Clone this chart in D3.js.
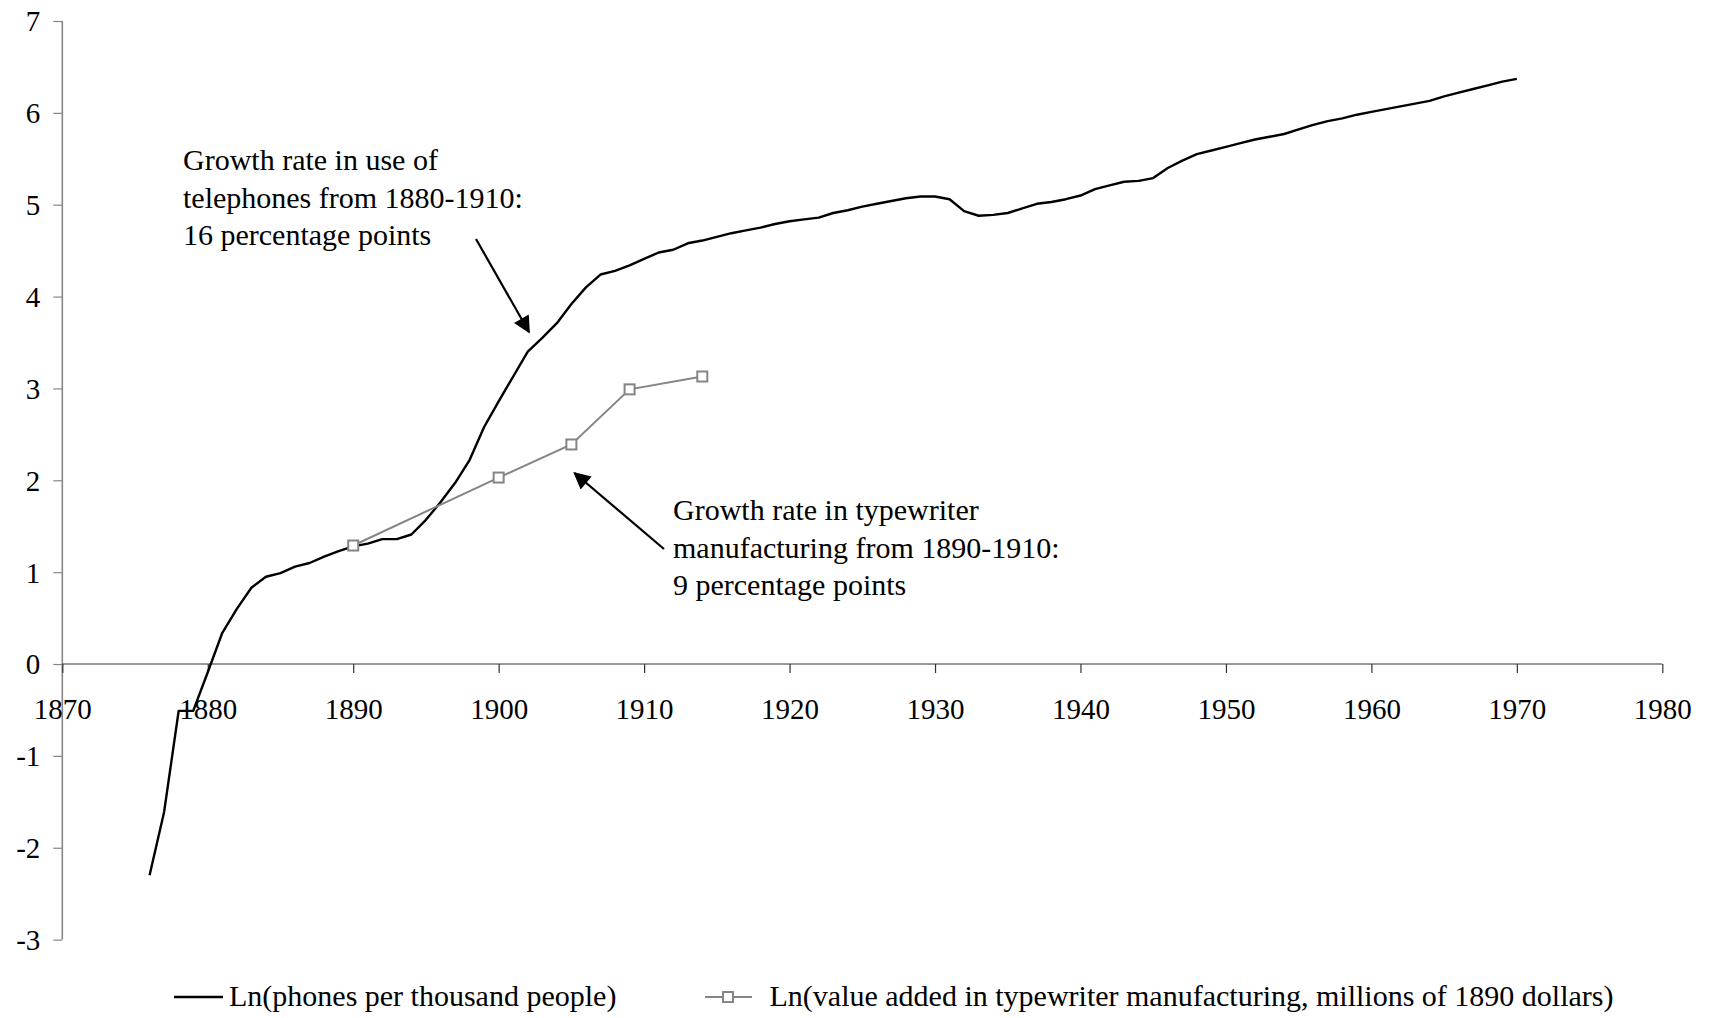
<!DOCTYPE html>
<html>
<head>
<meta charset="utf-8">
<script src="https://cdn.jsdelivr.net/npm/d3@7"></script>
<style>
  body { margin: 0; background: #fff; }
  text { font-family: "Liberation Serif", "Times New Roman", serif; }
</style>
</head>
<body>
<svg id="chart" width="1709" height="1018"></svg>
<script>
// phones per thousand people, natural log, yearly 1876-1970
var phoneYears = d3.range(1876, 1971);
var phoneValues = [
  -2.30, -1.61, -0.51, -0.51, -0.09, 0.34, 0.60, 0.83, 0.95, 0.99,
  1.06, 1.10, 1.17, 1.23, 1.28, 1.31, 1.36, 1.36, 1.41, 1.57,
  1.76, 1.97, 2.22, 2.58, 2.86, 3.13, 3.40, 3.55, 3.71, 3.92,
  4.10, 4.24, 4.28, 4.34, 4.41, 4.48, 4.51, 4.58, 4.61, 4.65,
  4.69, 4.72, 4.75, 4.79, 4.82, 4.84, 4.86, 4.91, 4.94, 4.98,
  5.01, 5.04, 5.07, 5.09, 5.09, 5.06, 4.93, 4.88, 4.89, 4.91,
  4.96, 5.01, 5.03, 5.06, 5.10, 5.17, 5.21, 5.25, 5.26, 5.29,
  5.40, 5.48, 5.55, 5.59, 5.63, 5.67, 5.71, 5.74, 5.77, 5.82,
  5.87, 5.91, 5.94, 5.98, 6.01, 6.04, 6.07, 6.10, 6.13, 6.18,
  6.22, 6.26, 6.30, 6.34, 6.37
];

// value added in typewriter manufacturing (census years)
var typeYears = [1890, 1900, 1905, 1909, 1914];
var typeValues = [1.29, 2.03, 2.39, 2.99, 3.13];

var xTicks = d3.range(1870, 1981, 10);
var yTicks = d3.range(-3, 8, 1);

var legendLabels = [
  "Ln(phones per thousand people)",
  "Ln(value added in typewriter manufacturing, millions of 1890 dollars)"
];
var note1 = ["Growth rate in use of", "telephones from 1880-1910:", "16 percentage points"];
var note2 = ["Growth rate in typewriter", "manufacturing from 1890-1910:", "9 percentage points"];

var svg = d3.select("#chart");

var x = d3.scaleLinear().domain([1870, 1980]).range([62.3, 1662.3]);
var y = d3.scaleLinear().domain([-3, 7]).range([939.6, 21]);

// y axis (gray), plain hyphen for negatives
var yAxis = svg.append("g")
    .attr("transform", "translate(" + x(1870) + ",0)")
    .call(d3.axisLeft(y).tickValues(yTicks).tickSize(9).tickFormat(function(d){ return String(d); }));
yAxis.select(".domain").attr("stroke", "#868686").attr("stroke-width", 1.6).attr("d", "M0," + y(7) + "V" + y(-3));
yAxis.selectAll(".tick line").attr("stroke", "#868686").attr("stroke-width", 1.2);
yAxis.selectAll(".tick text")
    .attr("x", -22).attr("dy", "0.34em")
    .style("font-family", "'Liberation Serif', serif").style("font-size", "29px").attr("fill", "#000");

// x axis along zero
var xAxis = svg.append("g")
    .attr("transform", "translate(0," + y(0) + ")")
    .call(d3.axisBottom(x).tickValues(xTicks).tickSize(9).tickFormat(function(d){ return String(d); }));
xAxis.select(".domain").attr("stroke", "#333").attr("stroke-width", 1.2).attr("d", "M" + x(1870) + ",0H" + x(1980));
xAxis.selectAll(".tick line").attr("stroke", "#333").attr("stroke-width", 1.2);
xAxis.selectAll(".tick text")
    .attr("y", 55).attr("dy", 0)
    .style("font-family", "'Liberation Serif', serif").style("font-size", "29px").attr("fill", "#000");

var line = d3.line()
    .x(function(d){ return x(d[0]); })
    .y(function(d){ return y(d[1]); });

// telephones
svg.append("path")
    .datum(d3.zip(phoneYears, phoneValues))
    .attr("fill", "none")
    .attr("stroke", "#000")
    .attr("stroke-width", 2.4)
    .attr("stroke-linejoin", "round")
    .attr("d", line);

// typewriters
var typeData = d3.zip(typeYears, typeValues);
svg.append("path")
    .datum(typeData)
    .attr("fill", "none")
    .attr("stroke", "#858585")
    .attr("stroke-width", 2)
    .attr("d", line);

var sq = 10;
svg.selectAll("rect.tw")
    .data(typeData)
    .enter()
    .append("rect")
      .attr("class", "tw")
      .attr("x", function(d){ return x(d[0]) - sq/2; })
      .attr("y", function(d){ return y(d[1]) - sq/2; })
      .attr("width", sq)
      .attr("height", sq)
      .attr("fill", "#fff")
      .attr("stroke", "#858585")
      .attr("stroke-width", 2);

// arrowheads
svg.append("defs").append("marker")
    .attr("id", "head")
    .attr("viewBox", "0 0 10 10")
    .attr("refX", 9).attr("refY", 5)
    .attr("markerWidth", 21).attr("markerHeight", 17)
    .attr("markerUnits", "userSpaceOnUse")
    .attr("orient", "auto")
  .append("path")
    .attr("d", "M0,0L10,5L0,10Z")
    .attr("fill", "#000");

// annotations
function note(lines, x0, y0) {
  var t = svg.append("text")
      .attr("x", x0).attr("y", y0)
      .style("font-size", "30px").attr("fill", "#000");
  t.selectAll("tspan")
    .data(lines)
    .enter()
    .append("tspan")
      .attr("x", x0)
      .attr("y", function(d, i){ return y0 + i * 37.5; })
      .text(function(d){ return d; });
}
note(note1, 183, 170);
note(note2, 673, 520);

svg.append("line")
    .attr("x1", 476).attr("y1", 239).attr("x2", 529).attr("y2", 332)
    .attr("stroke", "#000").attr("stroke-width", 2.2)
    .attr("marker-end", "url(#head)");
svg.append("line")
    .attr("x1", 664).attr("y1", 549).attr("x2", 574.5).attr("y2", 473)
    .attr("stroke", "#000").attr("stroke-width", 2.2)
    .attr("marker-end", "url(#head)");

// legend
var lg = svg.append("g");
lg.append("line")
    .attr("x1", 174).attr("x2", 223).attr("y1", 997).attr("y2", 997)
    .attr("stroke", "#000").attr("stroke-width", 2.4);
lg.append("text")
    .attr("x", 229).attr("y", 1006)
    .style("font-size", "30px").text(legendLabels[0]);
lg.append("line")
    .attr("x1", 705).attr("x2", 752).attr("y1", 997).attr("y2", 997)
    .attr("stroke", "#858585").attr("stroke-width", 2);
lg.append("rect")
    .attr("x", 728 - sq/2).attr("y", 997 - sq/2).attr("width", sq).attr("height", sq)
    .attr("fill", "#fff").attr("stroke", "#858585").attr("stroke-width", 2);
lg.append("text")
    .attr("x", 769.5).attr("y", 1006)
    .style("font-size", "30px").text(legendLabels[1]);
</script>
</body>
</html>
